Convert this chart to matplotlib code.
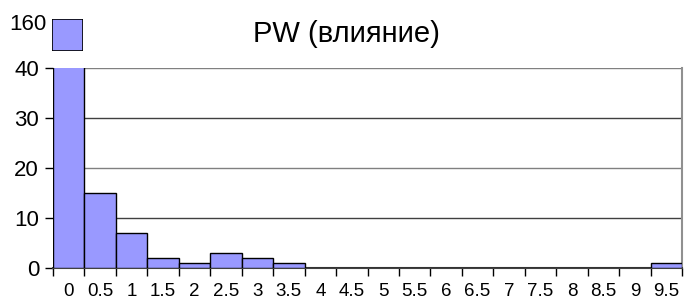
import numpy as np
import matplotlib
matplotlib.use('Agg')
import matplotlib.pyplot as plt
import matplotlib.transforms as mtransforms

plt.rcParams['font.family'] = ['Liberation Sans', 'DejaVu Sans']

# Datos
etiquetas = ['0', '0.5', '1', '1.5', '2', '2.5', '3', '3.5', '4', '4.5',
             '5', '5.5', '6', '6.5', '7', '7.5', '8', '8.5', '9', '9.5']
valores = [160, 15, 7, 2, 1, 3, 2, 1, 0, 0, 0, 0, 0, 0, 0, 0, 0, 0, 0, 1]
titulo = 'PW (влияние)'

color_barra = '#9999FF'
W, H = 684, 304

fig = plt.figure(figsize=(W / 100, H / 100), dpi=100)

# Eje principal (0-40)
x0, x1 = 53, 682
y0, y1 = 268, 68
ax = fig.add_axes([x0 / W, 1 - y0 / H, (x1 - x0) / W, (y0 - y1) / H])
x = np.arange(len(valores))
ax.bar(x, valores, width=1.0, color=color_barra, edgecolor='black',
       linewidth=1, zorder=3)
ax.set_xlim(-0.5, len(valores) - 0.5)
ax.set_ylim(0, 40)
ax.set_yticks([0, 10, 20, 30, 40])
ax.tick_params(axis='y', labelsize=16, length=6, width=1, pad=4)
ax.set_xticks(np.arange(len(valores) + 1) - 0.5)
ax.set_xticklabels([])
ax.set_xticks(x, minor=True)
ax.set_xticklabels(etiquetas, minor=True, fontsize=13.5)
ax.tick_params(axis='x', which='major', length=6, width=1, direction='out')
ax.tick_params(axis='x', which='minor', length=0, pad=11)
for v in [10, 20, 30, 40]:
    ax.axhline(v, color='#404040' if v in (10, 30) else '#808080',
               linewidth=1, zorder=1)
ax.spines['top'].set_visible(False)
ax.spines['left'].set_visible(False)
ax.spines['right'].set_color('#909090')
ax.spines['right'].set_linewidth(1.5)
ax.spines['bottom'].set_color('#404040')
ax.spines['bottom'].set_linewidth(1.5)

# Parte superior (valor 160)
bx0, bx1 = 52, 83
by0, by1 = 51, 19
ax2 = fig.add_axes([bx0 / W, 1 - by0 / H, (bx1 - bx0) / W, (by0 - by1) / H])
base = 150
ax2.bar([0], [valores[0] - base], bottom=base, width=1.0, color=color_barra,
        edgecolor='black', linewidth=1.2)
ax2.set_xlim(-0.5, 0.5)
ax2.set_ylim(base, valores[0])
ax2.set_yticks([valores[0]])
ax2.tick_params(axis='y', labelsize=16, length=0, pad=4)
ax2.set_xticks([])
for s in ax2.spines.values():
    s.set_visible(False)
desplazar = mtransforms.ScaledTranslation(0, -3 / 100, fig.dpi_scale_trans)
for t in ax2.get_yticklabels():
    t.set_transform(t.get_transform() + desplazar)

fig.text(346 / W, 1 - 34 / H, titulo, ha='center', va='center', fontsize=21)

fig.savefig('out.png', dpi=100)
